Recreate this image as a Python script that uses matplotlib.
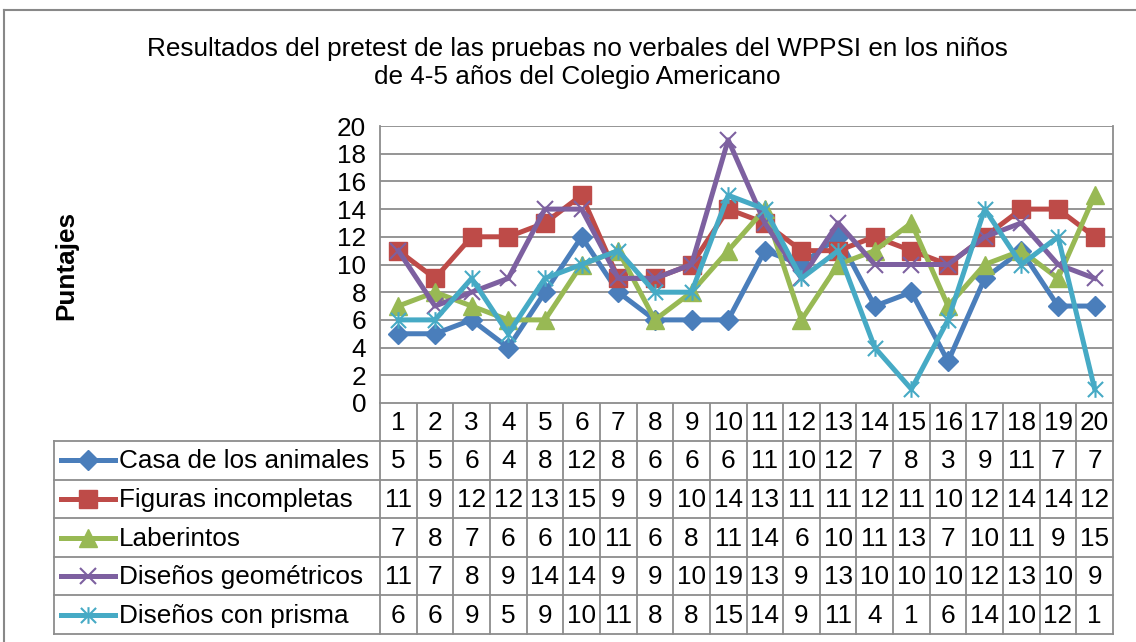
import matplotlib
matplotlib.use("Agg")
import matplotlib.pyplot as plt
from matplotlib.path import Path
from matplotlib.lines import Line2D

plt.rcParams['font.family'] = ['Liberation Sans', 'DejaVu Sans']

# datos
ninos = list(range(1, 21))
series_names = ["Casa de los animales", "Figuras incompletas", "Laberintos",
                "Diseños geométricos", "Diseños con prisma"]
casa = [5, 5, 6, 4, 8, 12, 8, 6, 6, 6, 11, 10, 12, 7, 8, 3, 9, 11, 7, 7]
figuras = [11, 9, 12, 12, 13, 15, 9, 9, 10, 14, 13, 11, 11, 12, 11, 10, 12, 14, 14, 12]
laberintos = [7, 8, 7, 6, 6, 10, 11, 6, 8, 11, 14, 6, 10, 11, 13, 7, 10, 11, 9, 15]
disenos_geo = [11, 7, 8, 9, 14, 14, 9, 9, 10, 19, 13, 9, 13, 10, 10, 10, 12, 13, 10, 9]
disenos_prisma = [6, 6, 9, 5, 9, 10, 11, 8, 8, 15, 14, 9, 11, 4, 1, 6, 14, 10, 12, 1]
all_series = [casa, figuras, laberintos, disenos_geo, disenos_prisma]

# estilo excel
colors = ['#4A7EBB', '#BE4B48', '#98B954', '#7D60A0', '#46AAC5']
star = Path([(-1, -1), (1, 1), (-1, 1), (1, -1), (0, -1.1), (0, 1.1)],
            [Path.MOVETO, Path.LINETO] * 3)
styles = [
    dict(marker='D', ms=10.5, mfc=colors[0], mec=colors[0]),
    dict(marker='s', ms=12.5, mfc=colors[1], mec=colors[1]),
    dict(marker='^', ms=13.5, mfc=colors[2], mec=colors[2]),
    dict(marker='x', ms=12, mfc='none', mec=colors[3], mew=1.5),
    dict(marker=star, ms=12, mfc='none', mec=colors[4], mew=1.5),
]
grid_c = '#8C8C8C'
FS = 18.8

W, H = 1136, 642
fig = plt.figure(figsize=(W / 100, H / 100), dpi=100)

# area de trazado en pixeles
L, R, T, B = 380, 1113, 126, 403
ax = fig.add_axes([L / W, 1 - B / H, (R - L) / W, (B - T) / H])
for s, st, c in zip(all_series, styles, colors):
    ax.plot(ninos, s, color=c, lw=3.6, **st)
ax.set_xlim(0.5, 20.5)
ax.set_ylim(0, 20)
ax.set_yticks(range(0, 21, 2))
ax.set_xticks([])
ax.tick_params(axis='y', length=0, pad=10, labelsize=FS)
ax.grid(axis='y', color=grid_c, lw=1.3)
ax.set_axisbelow(True)
for sp in ['top', 'bottom']:
    ax.spines[sp].set_visible(False)
for sp in ['left', 'right']:
    ax.spines[sp].set_color(grid_c)
    ax.spines[sp].set_linewidth(1.3)

# capa en pixeles para tabla y bordes
ov = fig.add_axes([0, 0, 1, 1], zorder=-1)
ov.set_xlim(0, W)
ov.set_ylim(H, 0)
ov.axis('off')

# borde del grafico
ov.plot([4, W], [10, 10], color='#888888', lw=1.5)
ov.plot([4, 4], [10, H], color='#888888', lw=1.5)

ov.text(577, 63, "Resultados del pretest de las pruebas no verbales del WPPSI en los niños\n"
        "de 4-5 años del Colegio Americano", ha='center', va='center', fontsize=FS,
        linespacing=1.2)
ov.text(66, 265, "Puntajes", rotation=90, ha='center', va='center', fontsize=FS,
        fontweight='bold')

# tabla de datos
col_w = (R - L) / len(ninos)
header_top, header_bot = B, 441
row_h = 38.6
tab_left = 54
bottom = header_bot + row_h * len(all_series)
for i in range(len(ninos) + 1):
    x = L + i * col_w
    ov.plot([x, x], [header_top, bottom], color=grid_c, lw=1.3)
ov.plot([L, R], [header_top, header_top], color=grid_c, lw=1.3)
ov.plot([tab_left, tab_left], [header_bot, bottom], color=grid_c, lw=1.3)
for j in range(len(all_series) + 1):
    y = header_bot + j * row_h
    ov.plot([tab_left, R], [y, y], color=grid_c, lw=1.3)

for i, n in enumerate(ninos):
    ov.text(L + (i + 0.5) * col_w, (header_top + header_bot) / 2 + 1, str(n),
            ha='center', va='center', fontsize=FS)

for j, (name, s, st, c) in enumerate(zip(series_names, all_series, styles, colors)):
    yc = header_bot + (j + 0.5) * row_h
    ov.add_line(Line2D([61, 88, 115], [yc, yc, yc], color=c, lw=3.6,
                       markevery=[1], **st))
    ov.text(119, yc + 1, name, ha='left', va='center', fontsize=FS)
    for i, v in enumerate(s):
        ov.text(L + (i + 0.5) * col_w, yc + 1, str(v), ha='center', va='center',
                fontsize=FS)

fig.savefig("out.png", dpi=100)
